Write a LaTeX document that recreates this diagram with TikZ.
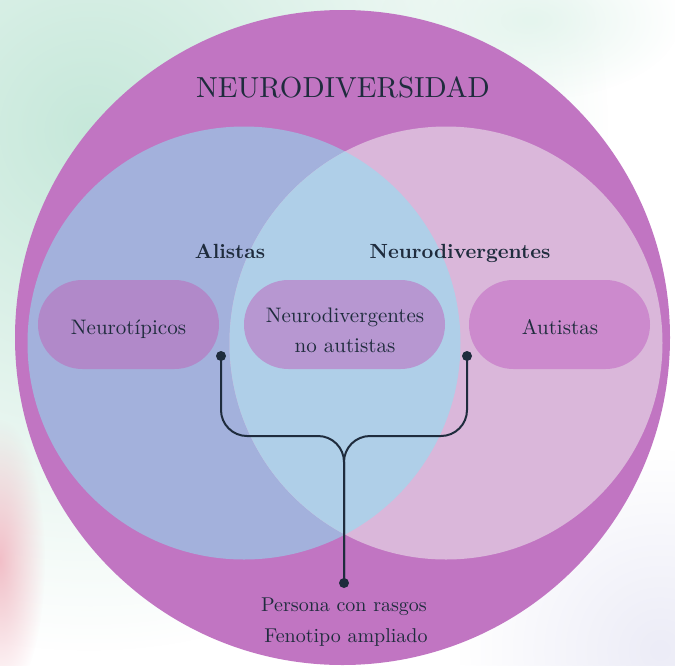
\documentclass[tikz,border=0pt]{standalone}
\usepackage{fontspec}
\setmainfont{lmroman10-regular.otf}[BoldFont=lmroman10-bold.otf]
\usetikzlibrary{shapes.misc,fadings}
\tikzfading[name=softblob, inner color=transparent!0, outer color=transparent!100]
\definecolor{outerC}{HTML}{C175C2}
\definecolor{blueC}{HTML}{A3B1DC}
\definecolor{pinkC}{HTML}{DAB7DA}
\definecolor{lensC}{HTML}{AFCFE8}
\definecolor{pillL}{HTML}{B189C9}
\definecolor{pillM}{HTML}{B797D1}
\definecolor{pillR}{HTML}{CC8ACD}
\definecolor{ink}{HTML}{1F2C3D}
\definecolor{mint}{HTML}{C6E8DA}
\definecolor{blush}{HTML}{F2BFC8}
\definecolor{lav}{HTML}{E4E4F4}
\tikzset{
  pill/.style={rounded rectangle, minimum width=181pt, minimum height=89pt, inner sep=0pt},
  lbl/.style={text=ink, font=\fontsize{21}{30}\selectfont, anchor=base, inner sep=0pt},
  dot/.style={circle, fill=ink, minimum size=10pt, inner sep=0pt},
  link/.style={draw=ink, line width=2pt, rounded corners=26pt},
  blob/.style={path fading=softblob}
}
\begin{document}
\begin{tikzpicture}[x=1pt,y=-1pt]
\useasboundingbox (0,0) rectangle (675,665);
\clip (0,0) rectangle (675,665);
% background
\fill[white] (0,0) rectangle (675,665);
\fill[mint, blob] (90,130) circle [radius=520pt];
\fill[mint!45, blob] (530,20) ellipse [x radius=150pt, y radius=80pt];
\fill[blush, blob] (0,560) ellipse [x radius=45pt, y radius=140pt];
\fill[lav!70, blob] (660,650) circle [radius=200pt];
% circles
\node[circle, fill=outerC, minimum size=655pt, inner sep=0pt] (outer) at (342.5,337.5) {};
\node[circle, fill=blueC, minimum size=433pt, inner sep=0pt] (alc) at (244,343) {};
\node[circle, fill=pinkC, minimum size=433pt, inner sep=0pt] (ndc) at (446,343) {};
\begin{scope}
  \clip (244,343) circle [radius=216.5pt];
  \fill[lensC] (446,343) circle [radius=216.5pt];
\end{scope}
% titles
\node[text=ink, font=\fontsize{29}{34}\selectfont, anchor=base, inner sep=0pt] (title) at (343,97) {NEURODIVERSIDAD};
\node[lbl, font=\fontsize{20.5}{30}\selectfont\bfseries] (alistas) at (230,258) {Alistas};
\node[lbl, font=\fontsize{20.5}{30}\selectfont\bfseries] (neurodiv) at (460,258) {Neurodivergentes};
% pills
\node[pill, fill=pillL] (pl) at (128.5,324.5) {};
\node[pill, fill=pillM, minimum width=201pt] (pm) at (344.5,324.5) {};
\node[pill, fill=pillR] (pr) at (559.5,324.5) {};
\node[lbl] (tl) at (128.5,334) {Neurotípicos};
\node[lbl] (tm1) at (345,322) {Neurodivergentes};
\node[lbl] (tm2) at (345,352) {no autistas};
\node[lbl] (tr) at (560,334) {Autistas};
% connectors
\node[dot] (dl) at (221,356) {};
\node[dot] (dr) at (467,356) {};
\node[dot] (db) at (344,583) {};
\coordinate (jl) at (221,436);
\coordinate (jr) at (467,436);
\coordinate (jm) at (344,436);
\draw[link] (dl.center) -- (jl) -- (jm) -- (db.center);
\draw[link] (dr.center) -- (jr) -- (jm) -- (db.center);
% bottom text
\node[lbl, font=\fontsize{20}{30}\selectfont] (p1) at (344,611) {Persona con rasgos};
\node[lbl, font=\fontsize{20}{30}\selectfont] (p2) at (346,642) {Fenotipo ampliado};
\end{tikzpicture}
\end{document}
